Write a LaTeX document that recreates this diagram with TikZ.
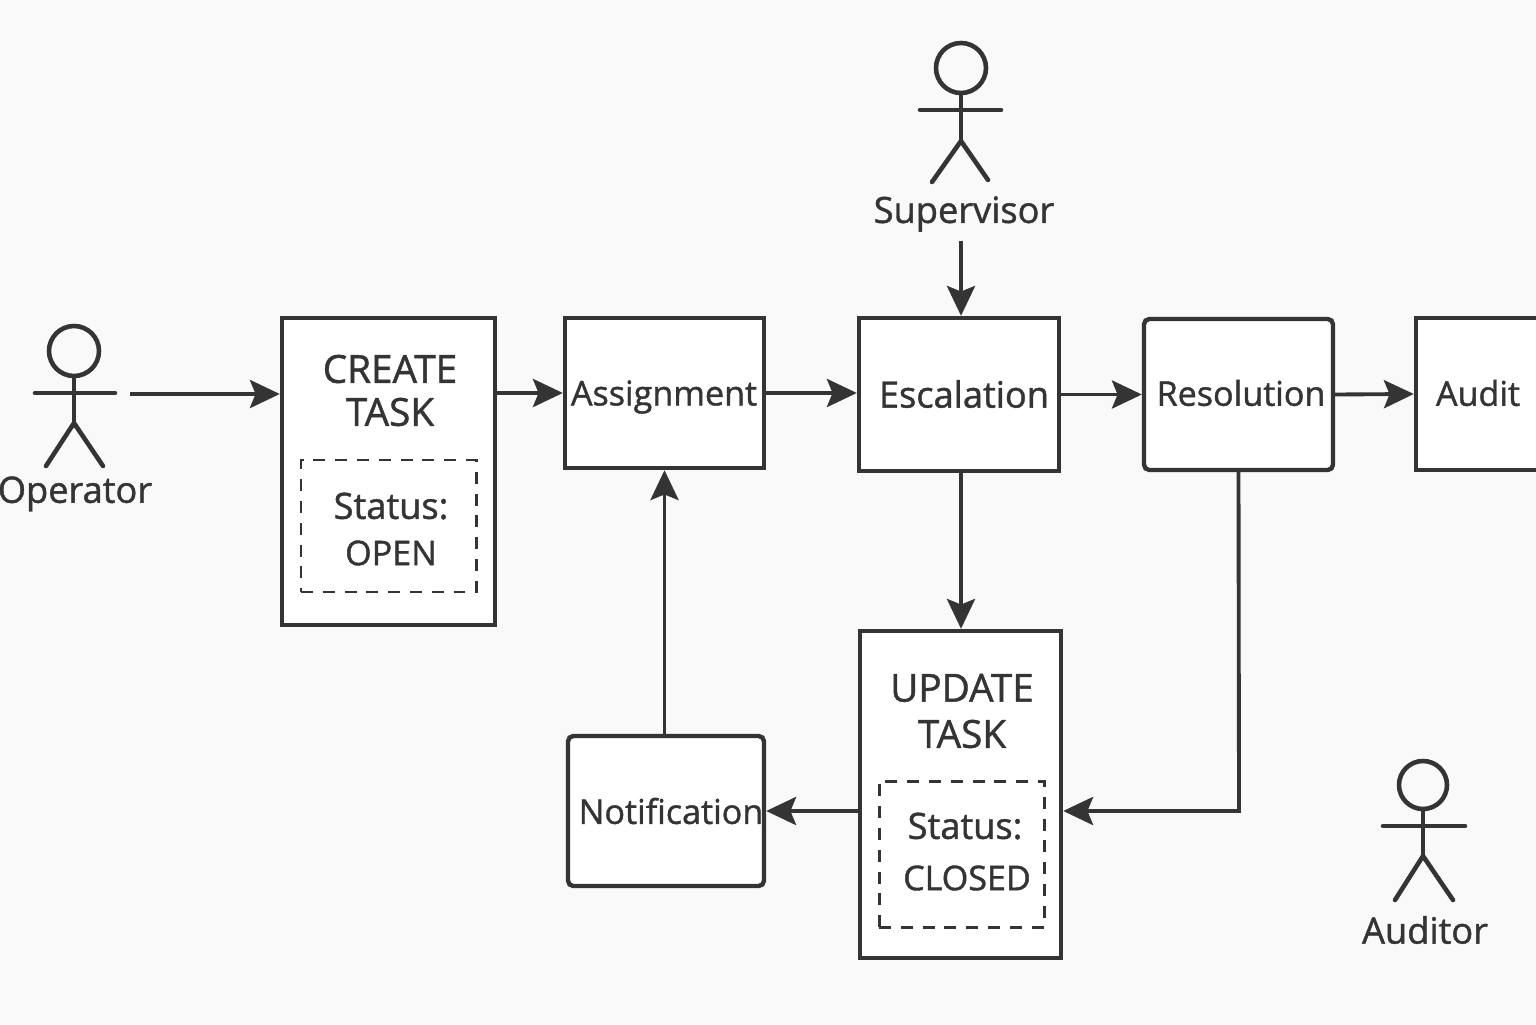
\documentclass[tikz,border=0pt]{standalone}
\usepackage{xcolor}
\usepackage{fontspec}
\setmainfont[FakeBold=1.2]{Open Sans}
\usepackage{tikz}
\usetikzlibrary{arrows.meta}
\definecolor{inkgray}{RGB}{52, 52, 52}
\definecolor{papergray}{RGB}{249, 249, 249}
\tikzset{
    flowbox/.style={draw=inkgray, line width=1.25pt, fill=white, inner sep=0pt},
    statusbox/.style={draw=inkgray, line width=0.85pt, dash pattern=on 3.4pt off 2.8pt, inner sep=0pt},
    label/.style={text=inkgray, font=\fontsize{10.3}{12}\selectfont, inner sep=0pt},
    boxlabel/.style={text=inkgray, font=\fontsize{9.7}{12}\selectfont, inner sep=0pt},
    titlelabel/.style={text=inkgray, font=\fontsize{11}{12}\selectfont, inner sep=0pt},
    flow/.style={draw=inkgray, line width=1.1pt, -{Stealth[length=8.5pt, width=8pt, inset=1.6pt]}},
    limb/.style={draw=inkgray, line width=1.3pt, line cap=round},
    headcirc/.style={draw=inkgray, line width=1.3pt, circle, inner sep=0pt}
}

\begin{document}
\begin{tikzpicture}
\useasboundingbox (0,0) rectangle (15.36,10.24);
\clip (0,0) rectangle (15.36,10.24);
\fill[papergray] (0,0) rectangle (15.36,10.24);

% Boxes of the top row
\node[flowbox, minimum width=2.13cm, minimum height=3.07cm] (create) at (3.885,5.525) {};
\node[flowbox, minimum width=1.99cm, minimum height=1.50cm] (assign) at (6.645,6.31) {};
\node[flowbox, minimum width=2.00cm, minimum height=1.53cm] (escal) at (9.59,6.295) {};
\node[flowbox, rounded corners=1.5pt, minimum width=1.89cm, minimum height=1.51cm] (resol) at (12.385,6.295) {};
\node[flowbox, minimum width=1.30cm, minimum height=1.52cm] (audit) at (14.81,6.30) {};

% Boxes of the bottom row
\node[flowbox, minimum width=2.01cm, minimum height=3.27cm] (update) at (9.605,2.295) {};
\node[flowbox, rounded corners=1.5pt, minimum width=1.96cm, minimum height=1.50cm] (notif) at (6.66,2.13) {};

% Dashed status boxes
\node[statusbox, minimum width=1.75cm, minimum height=1.32cm] (openbox) at (3.885,4.98) {};
\node[statusbox, minimum width=1.65cm, minimum height=1.46cm] (closedbox) at (9.615,1.70) {};

% Box texts
\node[titlelabel] (createa) at (3.90,6.55) {CREATE};
\node[titlelabel] (createb) at (3.90,6.12) {TASK};
\node[label] (opena) at (3.91,5.18) {Status:};
\node[boxlabel] (openb) at (3.91,4.71) {OPEN};
\node[boxlabel] (assigntxt) at (6.64,6.27) {Assignment};
\node[label] (escaltxt) at (9.64,6.30) {Escalation};
\node[boxlabel] (resoltxt) at (12.41,6.31) {Resolution};
\node[boxlabel] (audittxt) at (14.78,6.31) {Audit};
\node[titlelabel] (updatea) at (9.62,3.36) {UPDATE};
\node[titlelabel] (updateb) at (9.62,2.90) {TASK};
\node[label] (closeda) at (9.65,1.98) {Status:};
\node[boxlabel] (closedb) at (9.67,1.46) {CLOSED};
\node[boxlabel] (notiftxt) at (6.71,2.13) {Notification};

% Operator
\node[headcirc, minimum size=0.5cm] (ophead) at (0.74,6.73) {};
\draw[limb] (ophead.south) -- (0.74,5.98);
\draw[limb] (0.35,6.31) -- (1.15,6.31);
\draw[limb] (0.46,5.58) -- (0.74,6.01) -- (1.03,5.58);
\node[label] (optxt) at (0.75,5.30) {Operator};

% Supervisor
\node[headcirc, minimum size=0.5cm] (suphead) at (9.61,9.56) {};
\draw[limb] (suphead.south) -- (9.61,8.82);
\draw[limb] (9.20,9.14) -- (10.01,9.14);
\draw[limb] (9.32,8.42) -- (9.61,8.83) -- (9.88,8.44);
\node[label] (suptxt) at (9.64,8.10) {Supervisor};

% Auditor
\node[headcirc, minimum size=0.48cm] (audhead) at (14.23,2.39) {};
\draw[limb] (audhead.south) -- (14.23,1.66);
\draw[limb] (13.83,1.98) -- (14.65,1.98);
\draw[limb] (13.95,1.24) -- (14.23,1.68) -- (14.53,1.24);
\node[label] (audtxt) at (14.25,0.94) {Auditor};

% Free ends of arrows
\coordinate (opend) at (1.30,6.30);
\coordinate (supend) at (9.61,7.83);
\coordinate (bend) at (12.39,2.13);

% Arrows
\draw[flow] (opend) -- (opend -| create.west);
\draw[flow] (create.east |- assign) -- (assign.west);
\draw[flow] (assign.east) -- (assign.east -| escal.west);
\draw[flow] (escal.east) -- (resol.west);
\draw[flow] (resol.east) -- (audit.west);
\draw[flow] (supend) -- (supend |- escal.north);
\draw[flow] (escal.south -| supend) -- (supend |- update.north);
\draw[flow] (resol.south) -- (bend) -- (update.east |- bend);
\draw[flow] (update.west |- notif) -- (notif.east);
\draw[flow] (notif.north -| assign) -- (assign.south);
\end{tikzpicture}
\end{document}
